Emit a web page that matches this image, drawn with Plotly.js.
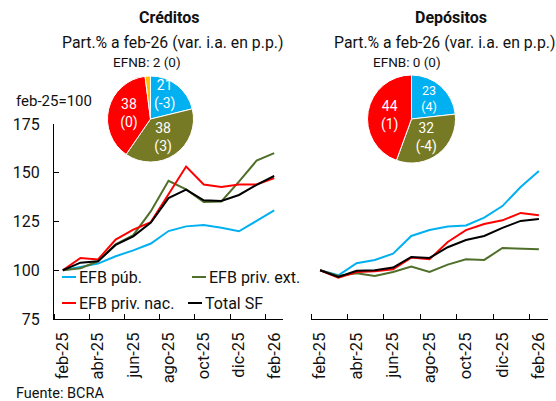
<!DOCTYPE html>
<html>
<head>
<meta charset="utf-8">
<script src="https://cdn.plot.ly/plotly-3.0.1.min.js"></script>
<style>html,body{margin:0;padding:0;background:#fff;}#chart{width:556px;height:401px;}</style>
</head>
<body>
<div id="chart"></div>
<script>
// ---------------- DATA ----------------
const months = ['feb-25','mar-25','abr-25','may-25','jun-25','jul-25','ago-25','sep-25','oct-25','nov-25','dic-25','ene-26','feb-26'];
const tickLabels = ['feb-25','abr-25','jun-25','ago-25','oct-25','dic-25','feb-26'];
const seriesNames = ['EFB púb.','EFB priv. ext.','EFB priv. nac.','Total SF'];

// Créditos (feb-25=100)
const credPub     = [100, 101.7, 103.4, 107.2, 110.2, 113.7, 120.1, 122.5, 123.2, 121.8, 120.0, 125.3, 130.7];
const credPrivExt = [100, 101.0, 104.6, 113.3, 118.0, 130.3, 145.9, 141.5, 135.0, 135.3, 145.4, 156.2, 160.1];
const credPrivNac = [100, 106.3, 105.5, 115.7, 120.8, 124.7, 139.0, 153.2, 144.0, 142.7, 144.0, 144.0, 147.3];
const credTotal   = [100, 103.9, 104.6, 113.0, 117.4, 124.5, 137.0, 141.3, 135.9, 135.5, 138.6, 143.8, 148.4];

// Depósitos (feb-25=100)
const depPub     = [100, 97.4, 103.6, 105.3, 108.5, 117.6, 120.6, 122.4, 123.0, 127.0, 132.9, 142.7, 150.9];
const depPrivExt = [100, 97.1, 98.5, 97.1, 99.1, 101.9, 99.1, 102.9, 105.6, 105.3, 111.4, 111.1, 110.8];
const depPrivNac = [100, 96.2, 99.1, 99.5, 100.5, 106.5, 105.6, 114.5, 120.6, 123.7, 125.6, 129.4, 128.2];
const depTotal   = [100, 96.6, 99.7, 100.0, 101.4, 106.8, 106.3, 111.8, 115.5, 117.6, 121.7, 125.3, 126.3];

// Pies: Part.% a feb-26 and var. i.a. en p.p.
const pieLabels  = ['EFB púb.','EFB priv. ext.','EFB priv. nac.','EFNB'];
const credShare  = [21, 38, 38, 2];
const credVar    = [-3, 3, 0, 0];
const depShare   = [23, 32, 44, 0];
const depVar     = [4, -4, 1, 0];

// ---------------- STYLE ----------------
const lineColors = ['#00B0F0', '#4F6F2A', '#FF0000', '#000000'];
const pieColors  = ['#00B0F0', '#777A24', '#FF0000', '#FFC000'];
const FONT = 'Roboto, Arial, sans-serif';
const W = 556, H = 401;
const px = v => v / W;
const py = v => 1 - v / H;

const xIdx = months.map((_, i) => i);
const tickIdx = tickLabels.map(t => months.indexOf(t));

const credSeries = [credPub, credPrivExt, credPrivNac, credTotal];
const depSeries  = [depPub, depPrivExt, depPrivNac, depTotal];

const traces = [];
credSeries.forEach((ys, k) => traces.push({
  type: 'scatter', mode: 'lines', x: xIdx, y: ys, name: seriesNames[k],
  line: {color: lineColors[k], width: 2}, xaxis: 'x', yaxis: 'y',
  showlegend: false, hoverinfo: 'skip'
}));
depSeries.forEach((ys, k) => traces.push({
  type: 'scatter', mode: 'lines', x: xIdx, y: ys, name: seriesNames[k],
  line: {color: lineColors[k], width: 2}, xaxis: 'x2', yaxis: 'y2',
  showlegend: false, hoverinfo: 'skip'
}));

const sliceText = '%{value}<br>(%{customdata})';
function pieTrace(vals, vars, dom, templates) {
  return {
    type: 'pie', values: vals, labels: pieLabels, customdata: vars,
    sort: false, direction: 'clockwise', rotation: 0,
    marker: {colors: pieColors, line: {color: '#ffffff', width: 1}},
    texttemplate: templates,
    textposition: 'inside', insidetextorientation: 'horizontal',
    textfont: {family: FONT, size: 14, color: '#ffffff'},
    domain: dom, showlegend: false, hoverinfo: 'skip'
  };
}
// Créditos: the small "EFB púb." slice label is written as a note so it keeps full size
traces.push(pieTrace(credShare, credVar, {x: [px(107), px(194)], y: [py(162), py(76)]}, ['', sliceText, sliceText, '']));
traces.push(pieTrace(depShare, depVar, {x: [px(367), px(456)], y: [py(163), py(75)]}, [sliceText, sliceText, sliceText, '']));

const xBase = {
  type: 'linear', range: [-0.5, 12.5], showgrid: false, zeroline: false,
  showline: true, linecolor: '#000', linewidth: 1,
  tickmode: 'array', tickvals: tickIdx, ticktext: tickLabels, ticks: '',
  tickangle: -90, ticklabelstandoff: 6,
  tickfont: {family: FONT, size: 16.5, color: '#111'},
  minor: {tick0: 1.5, dtick: 2, ticks: 'inside', ticklen: 5, tickcolor: '#000', tickwidth: 1, showgrid: false},
  fixedrange: true
};

function note(text, x, y, size, xanchor, color) {
  return {text: text, x: px(x), y: py(y), xref: 'paper', yref: 'paper', xanchor: xanchor || 'center', yanchor: 'middle',
    showarrow: false, font: {family: FONT, size: size, color: color || '#111'}};
}

const annotations = [
  note('<b>Créditos</b>', 169, 18, 16),
  note('Part.% a feb-26 (var. i.a. en p.p.)', 172, 43, 15.8),
  note('EFNB: ' + credShare[3] + ' (' + credVar[3] + ')', 147, 62, 13.5),
  note('<b>Depósitos</b>', 451, 18, 16),
  note('Part.% a feb-26 (var. i.a. en p.p.)', 444, 43, 15.8),
  note('EFNB: ' + depShare[3] + ' (' + depVar[3] + ')', 407, 62, 13.5),
  note('feb-25=100', 14, 101, 15, 'left'),
  note('Fuente: BCRA', 14, 393, 14.5, 'left'),
  note(credShare[0] + '<br>(' + credVar[0] + ')', 164, 94, 14, 'center', '#ffffff')
];

// Legend (manual, inside left panel)
const legPos = [[62, 277], [192, 277], [62, 303], [188, 303]];
const shapes = [];
seriesNames.forEach((n, k) => {
  const [lx, ly] = legPos[k];
  shapes.push({type: 'line', xref: 'paper', yref: 'paper', x0: px(lx), x1: px(lx + 14), y0: py(ly), y1: py(ly),
    line: {color: lineColors[k], width: 2}});
  annotations.push(note(n, lx + 15, ly, 16, 'left'));
});

const layout = {
  width: W, height: H, margin: {l: 0, r: 0, t: 0, b: 0},
  paper_bgcolor: '#fff', plot_bgcolor: 'rgba(0,0,0,0)',
  font: {family: FONT, color: '#111'},
  xaxis: Object.assign({}, xBase, {domain: [px(54), px(283)], anchor: 'y'}),
  xaxis2: Object.assign({}, xBase, {domain: [px(311), px(548)], anchor: 'y2'}),
  yaxis: {domain: [py(319), py(124)], range: [75, 175], anchor: 'x', showgrid: false, zeroline: false,
    showline: true, linecolor: '#000', linewidth: 1, ticks: 'inside', ticklen: 5, tickcolor: '#000',
    tickvals: [75, 100, 125, 150, 175], ticklabelstandoff: 10,
    tickfont: {family: FONT, size: 16, color: '#111'}, fixedrange: true},
  yaxis2: {domain: [py(319), py(124)], range: [75, 175], anchor: 'x2', visible: false, fixedrange: true},
  annotations: annotations, shapes: shapes, showlegend: false
};

Plotly.newPlot('chart', traces, layout, {displayModeBar: false, staticPlot: true});
</script>
</body>
</html>
